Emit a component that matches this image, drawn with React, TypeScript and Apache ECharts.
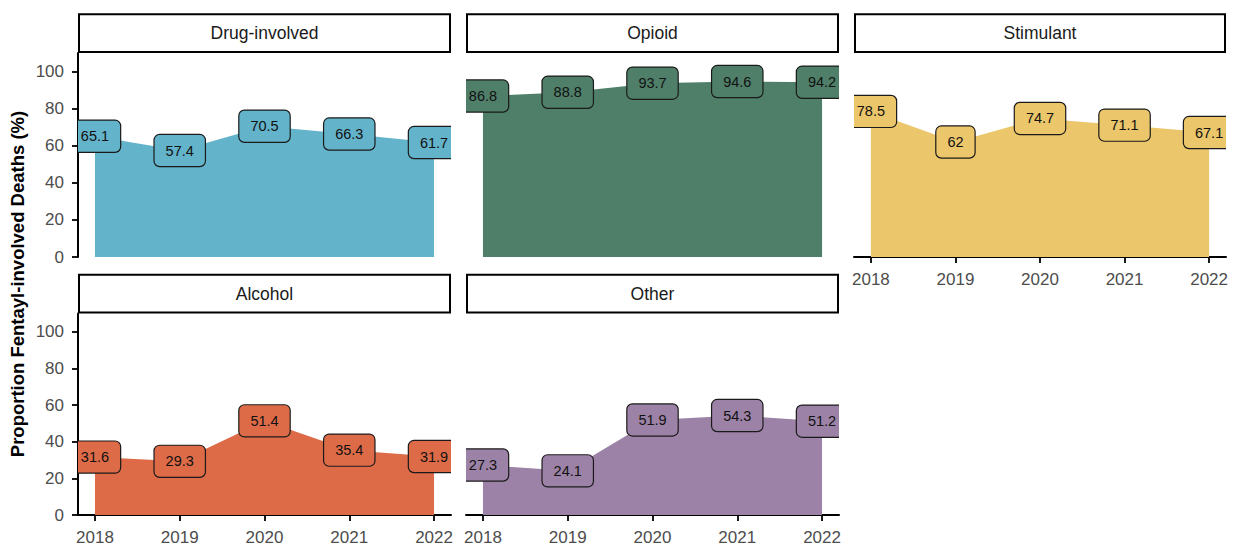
import React, { useEffect, useRef } from "react";
import * as echarts from "echarts";

// Share of drug deaths that involved fentanyl, by substance group and year
const years = [2018, 2019, 2020, 2021, 2022];
const panelNames = ["Drug-involved", "Opioid", "Stimulant", "Alcohol", "Other"];
const drugInvolved = [65.1, 57.4, 70.5, 66.3, 61.7];
const opioid = [86.8, 88.8, 93.7, 94.6, 94.2];
const stimulant = [78.5, 62, 74.7, 71.1, 67.1];
const alcohol = [31.6, 29.3, 51.4, 35.4, 31.9];
const other = [27.3, 24.1, 51.9, 54.3, 51.2];
const yTicks = [0, 20, 40, 60, 80, 100];
const yTitle = "Proportion Fentayl-involved Deaths (%)";

const panelValues = [drugInvolved, opioid, stimulant, alcohol, other];
const panelColors = ["#63B3CA", "#4F7F69", "#EBC66B", "#DD6B47", "#9C82A6"];

const FONT = "'Liberation Sans', Arial, Helvetica, sans-serif";

// facet layout: 3 columns, 2 rows
const colLeft = [78, 466, 854];
const colWidth = [373, 373, 372];
const rowTop = [53, 313.5];
const panelHeight = 204;
const stripHeight = 39.7;

// which outer axes each facet shows
const showY = [true, false, false, true, false];
const showX = [false, false, true, true, true];

export default function App() {
  const ref = useRef<HTMLDivElement>(null);

  useEffect(() => {
    if (!ref.current) return;
    const chart = echarts.init(ref.current, undefined, { renderer: "svg" });

    const grids: any[] = [];
    const xAxes: any[] = [];
    const yAxes: any[] = [];
    const series: any[] = [];
    const graphics: any[] = [];

    panelNames.forEach((name, i) => {
      const col = i % 3;
      const row = Math.floor(i / 3);
      const left = colLeft[col];
      const width = colWidth[col];
      const top = rowTop[row];

      grids.push({ left, top, width, height: panelHeight, containLabel: false });

      xAxes.push({
        type: "value",
        gridIndex: i,
        min: 2017.8,
        max: 2022.2,
        splitLine: { show: false },
        axisLine: { show: showX[i], lineStyle: { color: "#000", width: 2 } },
        axisTick: {
          show: showX[i],
          customValues: years,
          length: 6,
          lineStyle: { color: "#000", width: 1.8 },
        },
        axisLabel: {
          show: showX[i],
          customValues: years,
          formatter: (v: number) => String(v),
          margin: 14,
          color: "#4D4D4D",
          fontSize: 17,
          fontFamily: FONT,
        },
      });

      yAxes.push({
        type: "value",
        gridIndex: i,
        min: 0,
        max: 110,
        splitLine: { show: false },
        axisLine: { show: showY[i], lineStyle: { color: "#000", width: 2 } },
        axisTick: {
          show: showY[i],
          customValues: yTicks,
          length: 6,
          lineStyle: { color: "#000", width: 1.8 },
        },
        axisLabel: {
          show: showY[i],
          customValues: yTicks,
          margin: 14,
          color: "#4D4D4D",
          fontSize: 17,
          fontFamily: FONT,
        },
      });

      const pts = years.map((y, k) => [y, panelValues[i][k]]);

      series.push({
        type: "line",
        xAxisIndex: i,
        yAxisIndex: i,
        data: pts,
        showSymbol: false,
        symbol: "none",
        lineStyle: { width: 0 },
        areaStyle: { color: panelColors[i], opacity: 1 },
        z: 2,
      });

      const fill = panelColors[i];
      series.push({
        type: "custom",
        xAxisIndex: i,
        yAxisIndex: i,
        data: pts,
        clip: true,
        z: 3,
        renderItem: (_p: any, api: any) => {
          const v = api.value(1);
          const c = api.coord([api.value(0), v]);
          return {
            type: "text",
            x: c[0],
            y: c[1],
            style: {
              text: String(v),
              align: "center",
              verticalAlign: "middle",
              fill: "#111",
              fontSize: 14.5,
              fontFamily: FONT,
              backgroundColor: fill,
              borderColor: "#1A1A1A",
              borderWidth: 1.2,
              borderRadius: 5,
              padding: [8, 11, 8, 11],
            },
          };
        },
      });

      // facet strip
      const stripY = top - stripHeight;
      graphics.push({
        type: "rect",
        shape: { x: left + 1, y: stripY + 1, width: width - 2, height: stripHeight - 2 },
        style: { fill: "#fff", stroke: "#000", lineWidth: 2 },
      });
      graphics.push({
        type: "text",
        x: left + width / 2,
        y: stripY + stripHeight / 2,
        style: {
          text: name,
          align: "center",
          verticalAlign: "middle",
          fill: "#1A1A1A",
          fontSize: 17.5,
          fontFamily: FONT,
        },
      });
    });

    graphics.push({
      type: "text",
      x: 17,
      y: 284,
      rotation: Math.PI / 2,
      style: {
        text: yTitle,
        align: "center",
        verticalAlign: "middle",
        fill: "#000",
        fontSize: 18.5,
        fontWeight: "bold",
        fontFamily: FONT,
      },
    });

    chart.setOption({
      animation: false,
      backgroundColor: "#fff",
      grid: grids,
      xAxis: xAxes,
      yAxis: yAxes,
      series,
      graphic: graphics,
    });

    return () => chart.dispose();
  }, []);

  return (
    <div
      ref={ref}
      style={{ position: "absolute", left: 0, top: 0, width: 1239, height: 546 }}
    />
  );
}
